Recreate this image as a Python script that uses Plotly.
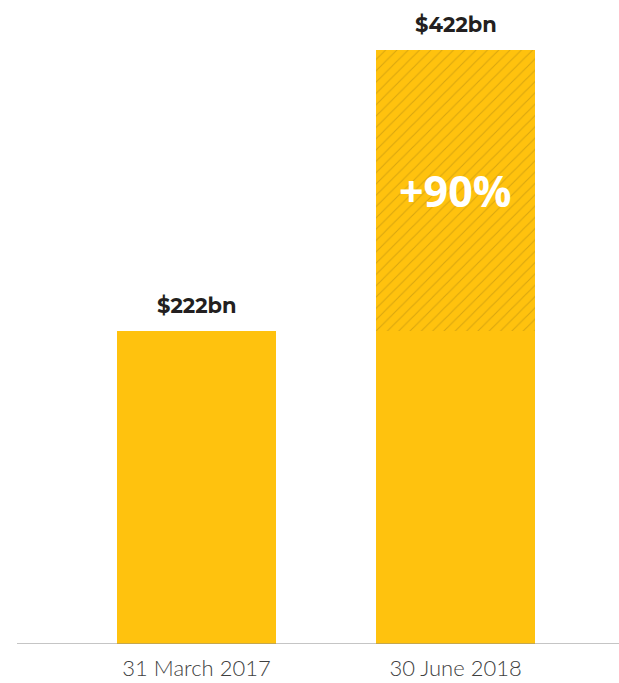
import plotly.graph_objects as go

# Assets under management at each reporting date ($bn)
dates = ["31 March 2017", "30 June 2018"]
base_values = [222, 222]          # solid portion
growth_values = [0, 200]          # hatched increase on top
totals = [222, 422]
value_labels = ["$222bn", "$422bn"]
growth_label = "+90%"

BAR_COLOR = "#FFC20E"
HATCH_COLOR = "#B38A10"
x_pos = [0, 1]

fig = go.Figure()
fig.add_trace(go.Bar(
    x=x_pos, y=base_values, width=0.614,
    marker=dict(color=BAR_COLOR, line=dict(width=0)),
    hoverinfo="skip",
))
fig.add_trace(go.Bar(
    x=x_pos, y=growth_values, width=0.614,
    marker=dict(
        color=BAR_COLOR, line=dict(width=0),
        pattern=dict(shape="/", fgcolor=HATCH_COLOR, bgcolor=BAR_COLOR,
                     size=8, solidity=0.14, fillmode="overlay"),
    ),
    hoverinfo="skip",
))

# Value labels above each bar
for xi, total, label in zip(x_pos, totals, value_labels):
    fig.add_annotation(
        x=xi, y=total, text=f"<b>{label}</b>", showarrow=False,
        yanchor="bottom", yshift=11,
        font=dict(family="Montserrat, Open Sans, sans-serif", size=21, color="#231F20"),
    )

# Growth label in the middle of the hatched section
fig.add_annotation(
    x=x_pos[1], y=base_values[1] + growth_values[1] / 2,
    text=f"<b>{growth_label}</b>", showarrow=False,
    font=dict(family="Open Sans, sans-serif", size=43, color="white"),
)

fig.update_layout(
    barmode="stack",
    width=619, height=683,
    margin=dict(l=17, r=0, t=0, b=39),
    paper_bgcolor="white", plot_bgcolor="white",
    showlegend=False,
    xaxis=dict(
        range=[-0.693, 1.631], tickvals=x_pos, ticktext=dates,
        showgrid=False, zeroline=False, showline=False,
        ticks="", ticklabelstandoff=9, automargin=False,
        tickfont=dict(family="Lato", size=22, color="#3F3F3F", weight=300),
        fixedrange=True,
    ),
    yaxis=dict(
        range=[0, 644 / 1.408], showgrid=False, zeroline=False, automargin=False,
        showticklabels=False, showline=False, fixedrange=True,
    ),
    shapes=[dict(type="line", xref="paper", yref="y", x0=0, x1=1, y0=0, y1=0,
                 line=dict(color="#8C8C8C", width=1.2), layer="above")],
)

fig.write_html("out.html")
